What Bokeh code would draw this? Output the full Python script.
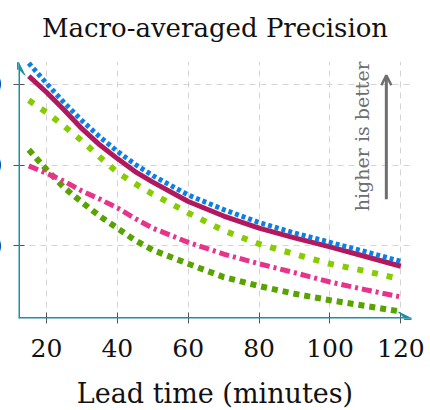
import math
from bokeh.plotting import figure
from bokeh.models import Arrow, VeeHead, OpenHead, Label, FixedTicker, NumeralTickFormatter, Range1d
from bokeh.embed import file_html
from bokeh.resources import INLINE

# ---- data ----
lead_time = [15, 20, 25, 30, 35, 40, 45, 50, 60, 70, 80, 90, 100, 110, 120]
blue_dotted = [0.526, 0.501, 0.477, 0.455, 0.435, 0.417, 0.401, 0.387, 0.363, 0.345, 0.329, 0.316, 0.3045, 0.293, 0.281]
magenta_solid = [0.510, 0.490, 0.468, 0.445, 0.425, 0.408, 0.392, 0.379, 0.355, 0.337, 0.322, 0.310, 0.299, 0.287, 0.275]
lime_dashed = [0.480, 0.465, 0.448, 0.430, 0.410, 0.391, 0.377, 0.364, 0.341, 0.319, 0.3025, 0.290, 0.278, 0.269, 0.259]
pink_dashdot = [0.399, 0.390, 0.380, 0.368, 0.358, 0.347, 0.334, 0.322, 0.3045, 0.290, 0.278, 0.267, 0.2555, 0.246, 0.237]
green_dotted = [0.419, 0.3945, 0.372, 0.354, 0.337, 0.322, 0.307, 0.295, 0.278, 0.2616, 0.2505, 0.241, 0.233, 0.226, 0.219]
x_ticks = [20, 40, 60, 80, 100, 120]
y_ticks = [0.3, 0.4, 0.5]

X0, X1 = 12.1, 123.0
Y0, Y1 = 0.2104, 0.528

SERIF = "DejaVu Serif"
TEAL = "#1890a6"
GREY = "#6e6e6e"

p = figure(width=484, height=434, x_range=Range1d(X0, X1), y_range=Range1d(Y0, Y1),
           output_backend="svg", toolbar_location=None,
           margin=(-12, -12, -24, -58),
           min_border_left=76, min_border_right=15, min_border_top=73, min_border_bottom=104)
p.outline_line_color = None
p.background_fill_color = "white"

p.title.text = "Macro-averaged Precision"
p.title.text_font = SERIF
p.title.text_font_size = "26px"
p.title.text_font_style = "normal"
p.title.text_color = "#111111"
p.title.align = "center"
p.title.standoff = 38

for ax in (p.xaxis[0], p.yaxis[0]):
    ax.axis_line_color = None
    ax.major_tick_line_color = "#555555"
    ax.major_tick_line_width = 1
    ax.major_tick_in = 6
    ax.major_tick_out = 5
    ax.minor_tick_line_color = None
    ax.major_label_text_font = SERIF
    ax.major_label_text_font_size = "25px"
    ax.major_label_text_color = "#111111"

p.xaxis.ticker = FixedTicker(ticks=x_ticks)
p.yaxis.ticker = FixedTicker(ticks=y_ticks)
p.yaxis.formatter = NumeralTickFormatter(format="0.00")
p.yaxis.major_label_standoff = 11
p.xaxis.major_label_standoff = 15
p.xaxis.axis_label = "Lead time (minutes)"
p.xaxis.axis_label_text_font = SERIF
p.xaxis.axis_label_text_font_size = "27px"
p.xaxis.axis_label_text_font_style = "normal"
p.xaxis.axis_label_text_color = "#111111"
p.xaxis.axis_label_standoff = 18

for g in (p.xgrid[0], p.ygrid[0]):
    g.grid_line_color = "#d4d4d4"
    g.grid_line_dash = "6 5"
    g.grid_line_width = 1

p.line(lead_time, green_dotted, line_color="#58a300", line_width=6, line_dash="6 5")
p.line(lead_time, pink_dashdot, line_color="#e8338b", line_width=5, line_dash="10 4 3 4")
p.line(lead_time, lime_dashed, line_color="#86cc00", line_width=6, line_dash="6 9")
p.line(lead_time, magenta_solid, line_color="#b1185d", line_width=5)
p.line(lead_time, blue_dotted, line_color="#0c7ee6", line_width=5, line_dash="4 3")

# axes with arrow heads
p.add_layout(Arrow(end=VeeHead(size=13, line_color=TEAL, fill_color=TEAL, line_width=1),
                   x_start=X0, y_start=Y0, x_end=X1, y_end=Y0, line_color=TEAL, line_width=3))
p.add_layout(Arrow(end=VeeHead(size=13, line_color=TEAL, fill_color=TEAL, line_width=1),
                   x_start=X0, y_start=Y0, x_end=X0, y_end=Y1 - 0.001, line_color=TEAL, line_width=3))

# "higher is better" annotation
NOTE_X, NOTE_Y = 109.0, 0.343
ARROW_X, ARROW_Y0, ARROW_Y1 = 115.9, 0.3577, 0.511
p.add_layout(Label(x=NOTE_X, y=NOTE_Y, text="higher is better", angle=math.pi / 2,
                   text_font=SERIF, text_font_size="19px", text_color=GREY,
                   text_align="left", text_baseline="alphabetic"))
p.add_layout(Arrow(end=OpenHead(size=10, line_color=GREY, line_width=2.5),
                   x_start=ARROW_X, y_start=ARROW_Y0, x_end=ARROW_X, y_end=ARROW_Y1,
                   line_color=GREY, line_width=3))

open("out.html", "w").write(file_html(p, INLINE))
